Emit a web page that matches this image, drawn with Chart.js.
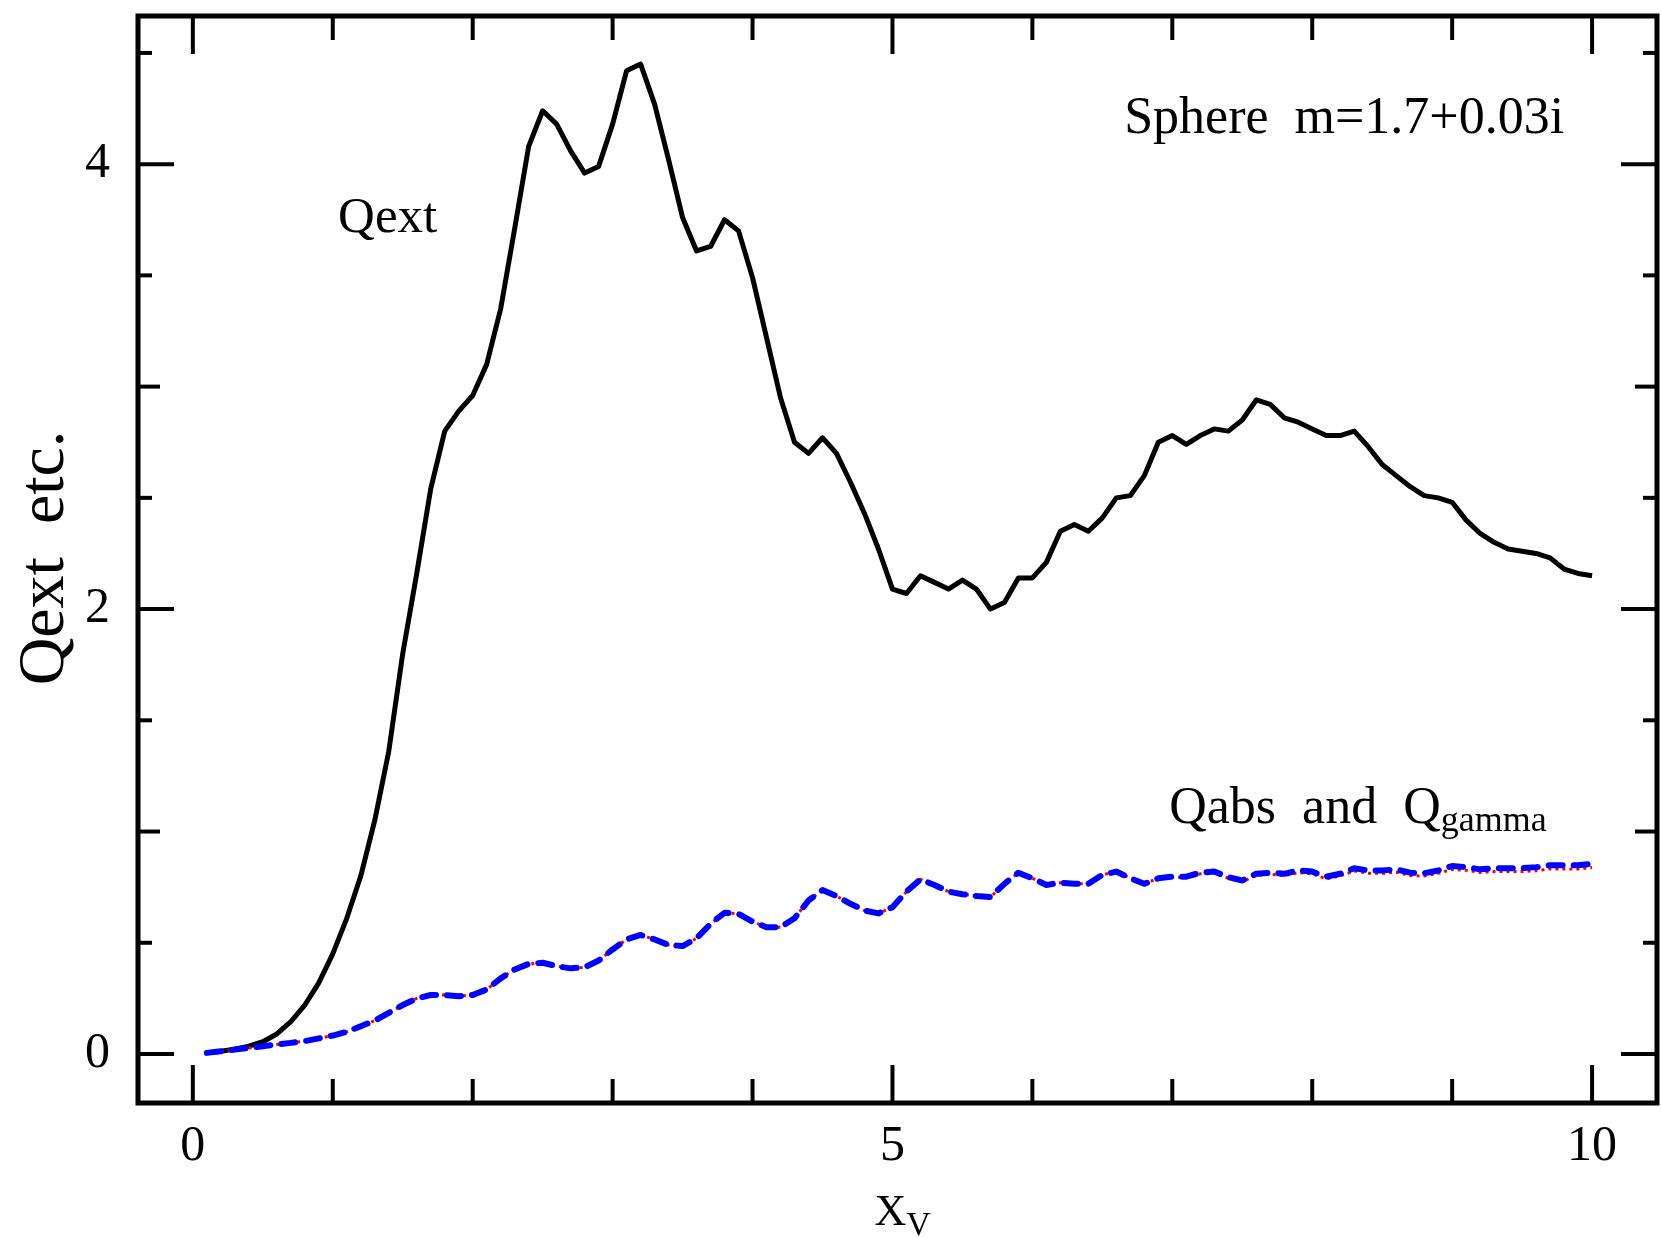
<!DOCTYPE html>
<html>
<head>
<meta charset="utf-8">
<title>Qext etc. vs Xv</title>
<script src="https://cdn.jsdelivr.net/npm/chart.js@4.4.0/dist/chart.umd.min.js"></script>
<style>
  html, body { margin: 0; padding: 0; background: #fff; }
  #wrap { width: 1661px; height: 1238px; }
</style>
</head>
<body>
<div id="wrap"><canvas id="c" width="1661" height="1238"></canvas></div>
<script>
// Size parameter Xv
const xv = [0.1,0.2,0.3,0.4,0.5,0.6,0.7,0.8,0.9,1.0,
  1.1,1.2,1.3,1.4,1.5,1.6,1.7,1.8,1.9,2.0,
  2.1,2.2,2.3,2.4,2.5,2.6,2.7,2.8,2.9,3.0,
  3.1,3.2,3.3,3.4,3.5,3.6,3.7,3.8,3.9,4.0,
  4.1,4.2,4.3,4.4,4.5,4.6,4.7,4.8,4.9,5.0,
  5.1,5.2,5.3,5.4,5.5,5.6,5.7,5.8,5.9,6.0,
  6.1,6.2,6.3,6.4,6.5,6.6,6.7,6.8,6.9,7.0,
  7.1,7.2,7.3,7.4,7.5,7.6,7.7,7.8,7.9,8.0,
  8.1,8.2,8.3,8.4,8.5,8.6,8.7,8.8,8.9,9.0,
  9.1,9.2,9.3,9.4,9.5,9.6,9.7,9.8,9.9,10.0];

// Extinction efficiency
const qext = [0.005,0.012,0.022,0.035,0.055,0.09,0.145,0.22,0.32,0.45,
  0.61,0.80,1.05,1.36,1.80,2.16,2.54,2.80,2.89,2.96,
  3.10,3.35,3.71,4.08,4.24,4.18,4.06,3.96,3.99,4.18,
  4.42,4.45,4.27,4.02,3.76,3.61,3.63,3.75,3.70,3.49,
  3.22,2.95,2.75,2.70,2.77,2.70,2.57,2.43,2.27,2.09,
  2.07,2.15,2.12,2.09,2.13,2.09,2.00,2.03,2.14,2.14,
  2.21,2.35,2.38,2.35,2.41,2.50,2.51,2.60,2.75,2.78,
  2.74,2.78,2.81,2.80,2.85,2.94,2.92,2.86,2.84,2.81,
  2.78,2.78,2.80,2.73,2.65,2.60,2.55,2.51,2.50,2.48,
  2.40,2.34,2.30,2.27,2.26,2.25,2.23,2.18,2.16,2.15];

// Absorption efficiency
const qabs = [0.005,0.012,0.02,0.027,0.035,0.043,0.05,0.058,0.07,0.083,
  0.10,0.125,0.15,0.185,0.22,0.25,0.265,0.265,0.26,0.265,
  0.29,0.34,0.38,0.405,0.41,0.395,0.385,0.39,0.42,0.47,
  0.515,0.535,0.515,0.49,0.485,0.52,0.585,0.635,0.63,0.595,
  0.57,0.57,0.61,0.69,0.737,0.71,0.675,0.645,0.632,0.66,
  0.73,0.785,0.76,0.73,0.718,0.71,0.705,0.765,0.815,0.79,
  0.76,0.77,0.765,0.765,0.805,0.82,0.79,0.765,0.79,0.797,
  0.797,0.815,0.82,0.795,0.78,0.81,0.815,0.81,0.825,0.82,
  0.797,0.81,0.835,0.825,0.825,0.83,0.815,0.812,0.825,0.845,
  0.84,0.83,0.835,0.835,0.835,0.84,0.848,0.848,0.848,0.855];

// Gamma efficiency
const qgamma = [0.005,0.012,0.02,0.027,0.035,0.043,0.05,0.058,0.07,0.083,
  0.10,0.125,0.15,0.185,0.22,0.25,0.265,0.265,0.26,0.265,
  0.29,0.34,0.38,0.405,0.41,0.395,0.385,0.39,0.42,0.47,
  0.515,0.535,0.515,0.49,0.485,0.52,0.585,0.635,0.63,0.595,
  0.57,0.57,0.61,0.69,0.737,0.71,0.675,0.645,0.632,0.66,
  0.73,0.785,0.76,0.73,0.718,0.71,0.705,0.765,0.815,0.79,
  0.76,0.77,0.765,0.765,0.805,0.82,0.79,0.765,0.79,0.795,
  0.793,0.81,0.815,0.79,0.775,0.803,0.808,0.802,0.815,0.81,
  0.787,0.80,0.823,0.813,0.812,0.817,0.802,0.80,0.812,0.83,
  0.826,0.816,0.82,0.82,0.82,0.824,0.832,0.832,0.832,0.838];

// Axis ticks
const xTickVals = [0,1,2,3,4,5,6,7,8,9,10];
const xLabelVals = [0,5,10];
const yTickVals = [0,0.5,1,1.5,2,2.5,3,3.5,4,4.5];
const yLabelVals = [0,2,4];
const yMidVals = [1,3];

const SERIF = '"Liberation Serif", "Times New Roman", serif';

function pts(ys) { return xv.map((x, i) => ({ x: x, y: ys[i] })); }

// Frame, inward ticks and text annotations
const framePlugin = {
  id: 'framePlugin',
  afterDraw(chart) {
    const { ctx, chartArea: a, scales } = chart;
    const xs = scales.x, ys = scales.y;
    const seg = (x1, y1, x2, y2) => { ctx.beginPath(); ctx.moveTo(x1, y1); ctx.lineTo(x2, y2); ctx.stroke(); };
    ctx.save();
    ctx.strokeStyle = '#000';
    ctx.lineCap = 'butt';
    ctx.lineWidth = 4;
    xTickVals.forEach(v => {
      const p = xs.getPixelForValue(v);
      const len = xLabelVals.includes(v) ? 38 : 24;
      seg(p, a.bottom, p, a.bottom - len);
      seg(p, a.top, p, a.top + len);
    });
    yTickVals.forEach(v => {
      const p = ys.getPixelForValue(v);
      const len = yLabelVals.includes(v) ? 36 : (yMidVals.includes(v) ? 22 : 14);
      seg(a.left, p, a.left + len, p);
      seg(a.right, p, a.right - len, p);
    });
    ctx.lineWidth = 5;
    ctx.strokeRect(a.left, a.top, a.right - a.left, a.bottom - a.top);

    ctx.fillStyle = '#000';
    ctx.textAlign = 'left';
    ctx.textBaseline = 'alphabetic';

    ctx.font = '52px ' + SERIF;
    ctx.fillText('Sphere  m=1.7+0.03i', xs.getPixelForValue(6.656), ys.getPixelForValue(4.14));

    ctx.font = '51px ' + SERIF;
    ctx.fillText('Qext', xs.getPixelForValue(1.038), ys.getPixelForValue(3.695));

    ctx.font = '52px ' + SERIF;
    const qx = xs.getPixelForValue(6.978), qy = ys.getPixelForValue(1.038);
    const main = 'Qabs  and  Q';
    ctx.fillText(main, qx, qy);
    const w = ctx.measureText(main).width;
    ctx.font = '36px ' + SERIF;
    ctx.fillText('gamma', qx + w, qy + 8);

    // x axis title with subscript
    ctx.font = '44px ' + SERIF;
    const tx = xs.getPixelForValue(5) - 18, ty = 1225;
    ctx.fillText('X', tx, ty);
    const wx = ctx.measureText('X').width;
    ctx.font = '34px ' + SERIF;
    ctx.fillText('V', tx + wx, ty + 10);

    // y axis title
    ctx.translate(63, 558);
    ctx.rotate(-Math.PI / 2);
    ctx.textAlign = 'center';
    ctx.font = '66px ' + SERIF;
    ctx.fillText('Qext  etc.', 0, 0);
    ctx.restore();
  }
};

function build() {
  new Chart(document.getElementById('c'), {
    type: 'line',
    data: {
      datasets: [
        { label: 'Qabs', data: pts(qabs), borderColor: '#0000ff', borderWidth: 6,
          borderDash: [14, 11], borderCapStyle: 'round', borderJoinStyle: 'round', pointRadius: 0, order: 0 },
        { label: 'Qgamma', data: pts(qgamma), borderColor: '#ff0000', borderWidth: 3,
          borderDash: [3, 4], pointRadius: 0, order: 1 },
        { label: 'Qext', data: pts(qext), borderColor: '#000000', borderWidth: 5,
          borderJoinStyle: 'round', pointRadius: 0, order: 2 }
      ]
    },
    options: {
      responsive: false,
      animation: false,
      devicePixelRatio: 1,
      layout: { padding: { top: 16, right: 4, left: 0, bottom: 0 } },
      plugins: { legend: { display: false }, tooltip: { enabled: false } },
      elements: { line: { tension: 0 } },
      scales: {
        x: {
          type: 'linear', min: -0.392, max: 10.464,
          grid: { display: false }, border: { display: false },
          afterBuildTicks: s => { s.ticks = xLabelVals.map(v => ({ value: v })); },
          afterFit: s => { s.height = 135; s.paddingLeft = 0; s.paddingRight = 0; s.paddingTop = 0; s.paddingBottom = 0; },
          ticks: { color: '#000', padding: 6, maxRotation: 0, autoSkip: false,
                   font: { family: SERIF, size: 50 }, callback: v => String(v) }
        },
        y: {
          type: 'linear', min: -0.2203, max: 4.666,
          grid: { display: false }, border: { display: false },
          afterBuildTicks: s => { s.ticks = yLabelVals.map(v => ({ value: v })); },
          afterFit: s => { s.width = 138; s.paddingLeft = 0; s.paddingRight = 0; s.paddingTop = 0; s.paddingBottom = 0; },
          ticks: { color: '#000', padding: 20, autoSkip: false,
                   font: { family: SERIF, size: 50 }, callback: v => String(v) }
        }
      }
    },
    plugins: [framePlugin]
  });
}

const fontReady = document.fonts && document.fonts.load
  ? Promise.race([document.fonts.load('52px "Liberation Serif"'), new Promise(r => setTimeout(r, 800))])
  : Promise.resolve();
fontReady.then(build, build);
</script>
</body>
</html>
